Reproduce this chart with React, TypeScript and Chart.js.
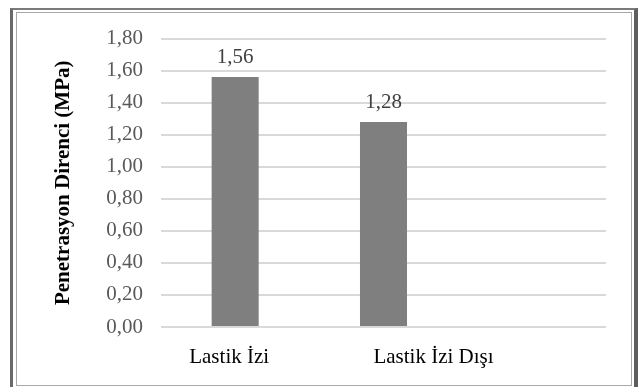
import { useEffect, useRef } from "react";
import { Chart, registerables } from "chart.js";

Chart.register(...registerables);

// Penetration resistance (MPa) inside and outside the tyre track
const categories = ["Lastik İzi", "Lastik İzi Dışı", ""];
const values: (number | null)[] = [1.56, 1.28, null];
const yMin = 0;
const yMax = 1.8;
const yStep = 0.2;
const yTitle = "Penetrasyon Direnci (MPa)";

// horizontal nudge of each category caption relative to its slot centre
const captionShift = [-6, 50, 0];

const SERIF = '"Liberation Serif", "Times New Roman", serif';
const fmt = (v: number) => v.toFixed(2).replace(".", ",");

const labelPlugin = {
  id: "barAndCategoryLabels",
  afterDatasetsDraw(chart: any) {
    const ctx = chart.ctx as CanvasRenderingContext2D;
    const meta = chart.getDatasetMeta(0);
    ctx.save();
    ctx.font = `21px ${SERIF}`;
    ctx.textAlign = "center";
    ctx.textBaseline = "alphabetic";
    ctx.fillStyle = "#404040";
    meta.data.forEach((bar: any, i: number) => {
      const v = values[i];
      if (v == null) return;
      ctx.fillText(fmt(v), bar.x, bar.y - 14);
    });
    const xs = chart.scales.x;
    ctx.fillStyle = "#000000";
    categories.forEach((c, i) => {
      if (!c) return;
      ctx.fillText(c, xs.getPixelForValue(i) + captionShift[i], xs.top + 36);
    });
    ctx.restore();
  },
};

function PenetrationChart() {
  const ref = useRef<HTMLCanvasElement | null>(null);

  useEffect(() => {
    if (!ref.current) return;
    const chart = new Chart(ref.current, {
      type: "bar",
      data: {
        labels: categories,
        datasets: [
          {
            data: values,
            backgroundColor: "#7f7f7f",
            borderWidth: 0,
            categoryPercentage: 1,
            barPercentage: 0.317,
          },
        ],
      },
      options: {
        responsive: false,
        animation: false,
        devicePixelRatio: 1,
        layout: { padding: { left: 34, right: 25, top: 22, bottom: 0 } },
        plugins: {
          legend: { display: false },
          tooltip: { enabled: false },
        },
        scales: {
          x: {
            grid: { display: false },
            border: { display: false },
            ticks: { display: false },
            afterFit: (scale: any) => {
              scale.height = 58;
            },
          },
          y: {
            min: yMin,
            max: yMax,
            grid: { color: "#d9d9d9", lineWidth: 2, drawTicks: false },
            border: { display: false },
            ticks: {
              stepSize: yStep,
              padding: 18,
              color: "#595959",
              font: { family: SERIF, size: 21 },
              callback: (v: any) => fmt(Number(v)),
            },
            title: {
              display: true,
              text: yTitle,
              color: "#000000",
              padding: { top: 0, bottom: 0 },
              font: { family: SERIF, size: 21, weight: "bold" },
            },
            afterFit: (scale: any) => {
              scale.width = 110;
            },
          },
        },
      },
      plugins: [labelPlugin],
    });
    return () => chart.destroy();
  }, []);

  return (
    <canvas
      ref={ref}
      width={614}
      height={377}
      style={{ position: "absolute", left: 17, top: 8, width: 614, height: 377 }}
    />
  );
}

export default function App() {
  return (
    <div
      style={{
        position: "absolute",
        left: 0,
        top: 0,
        width: 638,
        height: 387,
        background: "#ffffff",
        overflow: "hidden",
      }}
    >
      <div
        style={{
          position: "absolute",
          left: 10,
          top: 8,
          width: 628,
          height: 385,
          borderTop: "2px solid #7a7a7a",
          borderLeft: "3px solid #6a6a6a",
          borderRight: "4px solid #5e5e5e",
          boxSizing: "border-box",
        }}
      />
      <div
        style={{
          position: "absolute",
          left: 16,
          top: 12,
          width: 616,
          height: 374,
          border: "1px solid #a8a8a8",
          boxSizing: "border-box",
        }}
      />
      <PenetrationChart />
    </div>
  );
}
